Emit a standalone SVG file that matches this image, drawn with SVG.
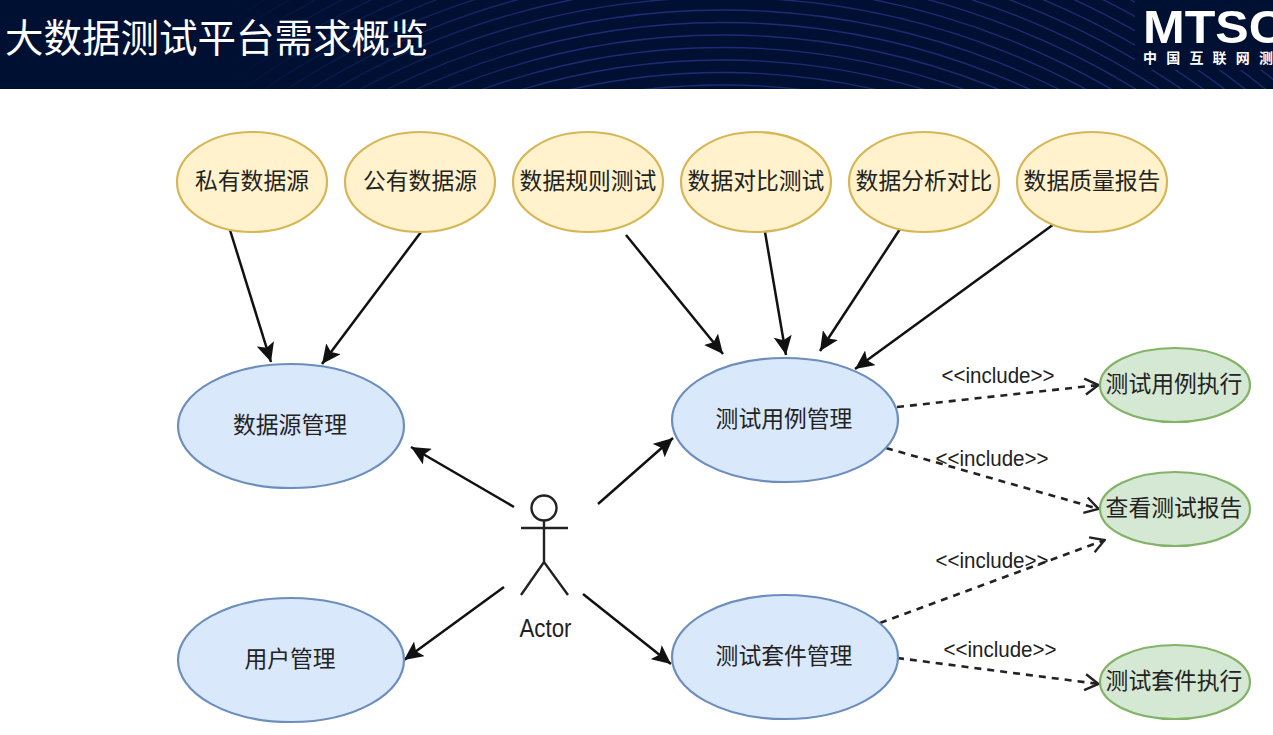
<svg xmlns="http://www.w3.org/2000/svg" width="1273" height="735" viewBox="0 0 1273 735">
<style>
text{font-family:"Noto Sans CJK SC","Liberation Sans",sans-serif;fill:#222;text-anchor:middle}
.y{fill:#fff2cc;stroke:#d6b656;stroke-width:2.200}
.b{fill:#dae8fc;stroke:#6c8ebf;stroke-width:2.200}
.g{fill:#d5e8d4;stroke:#82b366;stroke-width:2.200}
.t{font-size:22.800px}
.i{font-size:22px;font-family:"Liberation Sans",sans-serif}
.s{fill:none;stroke:#111;stroke-width:2.500}
.d{fill:none;stroke:#222;stroke-width:2.600;stroke-dasharray:7 6}
.w circle{fill:none;stroke:url(#wave);stroke-width:1.300}
</style>
<defs>
<marker id="f" markerUnits="userSpaceOnUse" viewBox="0 0 20 18" markerWidth="20" markerHeight="18" refX="19" refY="9" orient="auto"><path d="M0 0L19 9L0 18L4 9Z" fill="#111"/></marker>
<marker id="o" markerUnits="userSpaceOnUse" viewBox="0 0 16 20" markerWidth="16" markerHeight="20" refX="15" refY="10" orient="auto"><path d="M1 2L14.500 10L1 18" fill="none" stroke="#222" stroke-width="2.400"/></marker>
<linearGradient id="wave" gradientUnits="userSpaceOnUse" x1="220" x2="560" y1="0" y2="0"><stop offset="0" stop-color="#1c2c72" stop-opacity="0"/><stop offset="1" stop-color="#1c2c72"/></linearGradient>
<clipPath id="hc"><rect width="1273" height="89"/></clipPath>
</defs>
<g id="header">
<rect width="1273" height="89" fill="#001033"/>
<g class="w" clip-path="url(#hc)">
<circle cx="723" cy="760" r="675"/><circle cx="723" cy="760" r="687.500"/><circle cx="723" cy="760" r="700"/><circle cx="723" cy="760" r="712.500"/><circle cx="723" cy="760" r="725"/><circle cx="723" cy="760" r="737.500"/><circle cx="723" cy="760" r="750"/><circle cx="723" cy="760" r="762.500"/><circle cx="723" cy="760" r="775"/><circle cx="723" cy="760" r="787.500"/><circle cx="723" cy="760" r="800"/><circle cx="723" cy="760" r="812.500"/><circle cx="723" cy="760" r="825"/><circle cx="723" cy="760" r="837.500"/><circle cx="723" cy="760" r="850"/><circle cx="723" cy="760" r="862.500"/><circle cx="723" cy="760" r="875"/><circle cx="723" cy="760" r="887.500"/><circle cx="723" cy="760" r="900"/><circle cx="723" cy="760" r="912.500"/><circle cx="723" cy="760" r="925"/><circle cx="723" cy="760" r="937.500"/>
</g>
<rect x="1135" width="138" height="70" fill="#001033"/>
<text x="5" y="52" style="font-size:38.500px;fill:#fff;text-anchor:start">大数据测试平台需求概览</text>
<text x="1143" y="43" style="font-size:47px;font-weight:700;fill:#fff;text-anchor:start;font-family:'Liberation Sans',sans-serif" textLength="142" lengthAdjust="spacingAndGlyphs">MTSC</text>
<text x="1143" y="63" style="font-size:14px;font-weight:700;fill:#fff;text-anchor:start" textLength="130" lengthAdjust="spacing">中国互联网测</text>
</g>
<g id="connectors">
<path class="s" marker-end="url(#f)" d="M230 230L271 362"/>
<path class="s" marker-end="url(#f)" d="M421 232L322 364"/>
<path class="s" marker-end="url(#f)" d="M626 235L723 354"/>
<path class="s" marker-end="url(#f)" d="M765 232L786 355"/>
<path class="s" marker-end="url(#f)" d="M900 229L820 351"/>
<path class="s" marker-end="url(#f)" d="M1054 224L855 369"/>
<path class="s" marker-end="url(#f)" d="M514 507L411 447"/>
<path class="s" marker-end="url(#f)" d="M598 504L673 438"/>
<path class="s" marker-end="url(#f)" d="M504 587L404 660"/>
<path class="s" marker-end="url(#f)" d="M583 594L671 664"/>
<path class="d" marker-end="url(#o)" d="M897 407L1099 385"/>
<path class="d" marker-end="url(#o)" d="M886 448L1099 509"/>
<path class="d" marker-end="url(#o)" d="M880 623L1105 540"/>
<path class="d" marker-end="url(#o)" d="M897 658L1099 684"/>
</g>
<g id="n1"><ellipse class="y" cx="252" cy="182" rx="75" ry="50"/><text class="t" x="252" y="189">私有数据源</text></g>
<g id="n2"><ellipse class="y" cx="420" cy="182" rx="75" ry="50"/><text class="t" x="420" y="189">公有数据源</text></g>
<g id="n3"><ellipse class="y" cx="588" cy="182" rx="75" ry="50"/><text class="t" x="588" y="189">数据规则测试</text></g>
<g id="n4"><ellipse class="y" cx="756" cy="182" rx="75" ry="50"/><text class="t" x="756" y="189">数据对比测试</text></g>
<g id="n5"><ellipse class="y" cx="924" cy="182" rx="75" ry="50"/><text class="t" x="924" y="189">数据分析对比</text></g>
<g id="n6"><ellipse class="y" cx="1092" cy="182" rx="75" ry="50"/><text class="t" x="1092" y="189">数据质量报告</text></g>
<g id="n7"><ellipse class="b" cx="291" cy="426" rx="113" ry="62"/><text class="t" x="290" y="433">数据源管理</text></g>
<g id="n8"><ellipse class="b" cx="785" cy="420" rx="113" ry="62"/><text class="t" x="784" y="427">测试用例管理</text></g>
<g id="n9"><ellipse class="b" cx="291" cy="660" rx="113" ry="62"/><text class="t" x="290" y="667">用户管理</text></g>
<g id="n10"><ellipse class="b" cx="785" cy="657" rx="113" ry="62"/><text class="t" x="784" y="664">测试套件管理</text></g>
<g id="n11"><ellipse class="g" cx="1175" cy="385" rx="75" ry="37"/><text class="t" x="1174" y="392">测试用例执行</text></g>
<g id="n12"><ellipse class="g" cx="1175" cy="509" rx="75" ry="37"/><text class="t" x="1174" y="516">查看测试报告</text></g>
<g id="n13"><ellipse class="g" cx="1175" cy="682" rx="75" ry="37"/><text class="t" x="1174" y="689">测试套件执行</text></g>
<g id="actor">
<circle cx="544" cy="508" r="12.500" fill="#fff" stroke="#222" stroke-width="2.400"/>
<path d="M544 520V562M521 528H568M521 595L544 562L568 595" fill="none" stroke="#222" stroke-width="2.400"/>
<text x="545.500" y="637" style="font-size:26px;font-family:'Liberation Sans',sans-serif" textLength="52" lengthAdjust="spacingAndGlyphs">Actor</text>
</g>
<g id="labels">
<text class="i" x="998" y="383" textLength="113" lengthAdjust="spacingAndGlyphs">&lt;&lt;include&gt;&gt;</text>
<text class="i" x="992" y="466" textLength="113" lengthAdjust="spacingAndGlyphs">&lt;&lt;include&gt;&gt;</text>
<text class="i" x="992" y="568" textLength="113" lengthAdjust="spacingAndGlyphs">&lt;&lt;include&gt;&gt;</text>
<text class="i" x="1000" y="657" textLength="113" lengthAdjust="spacingAndGlyphs">&lt;&lt;include&gt;&gt;</text>
</g>
</svg>
